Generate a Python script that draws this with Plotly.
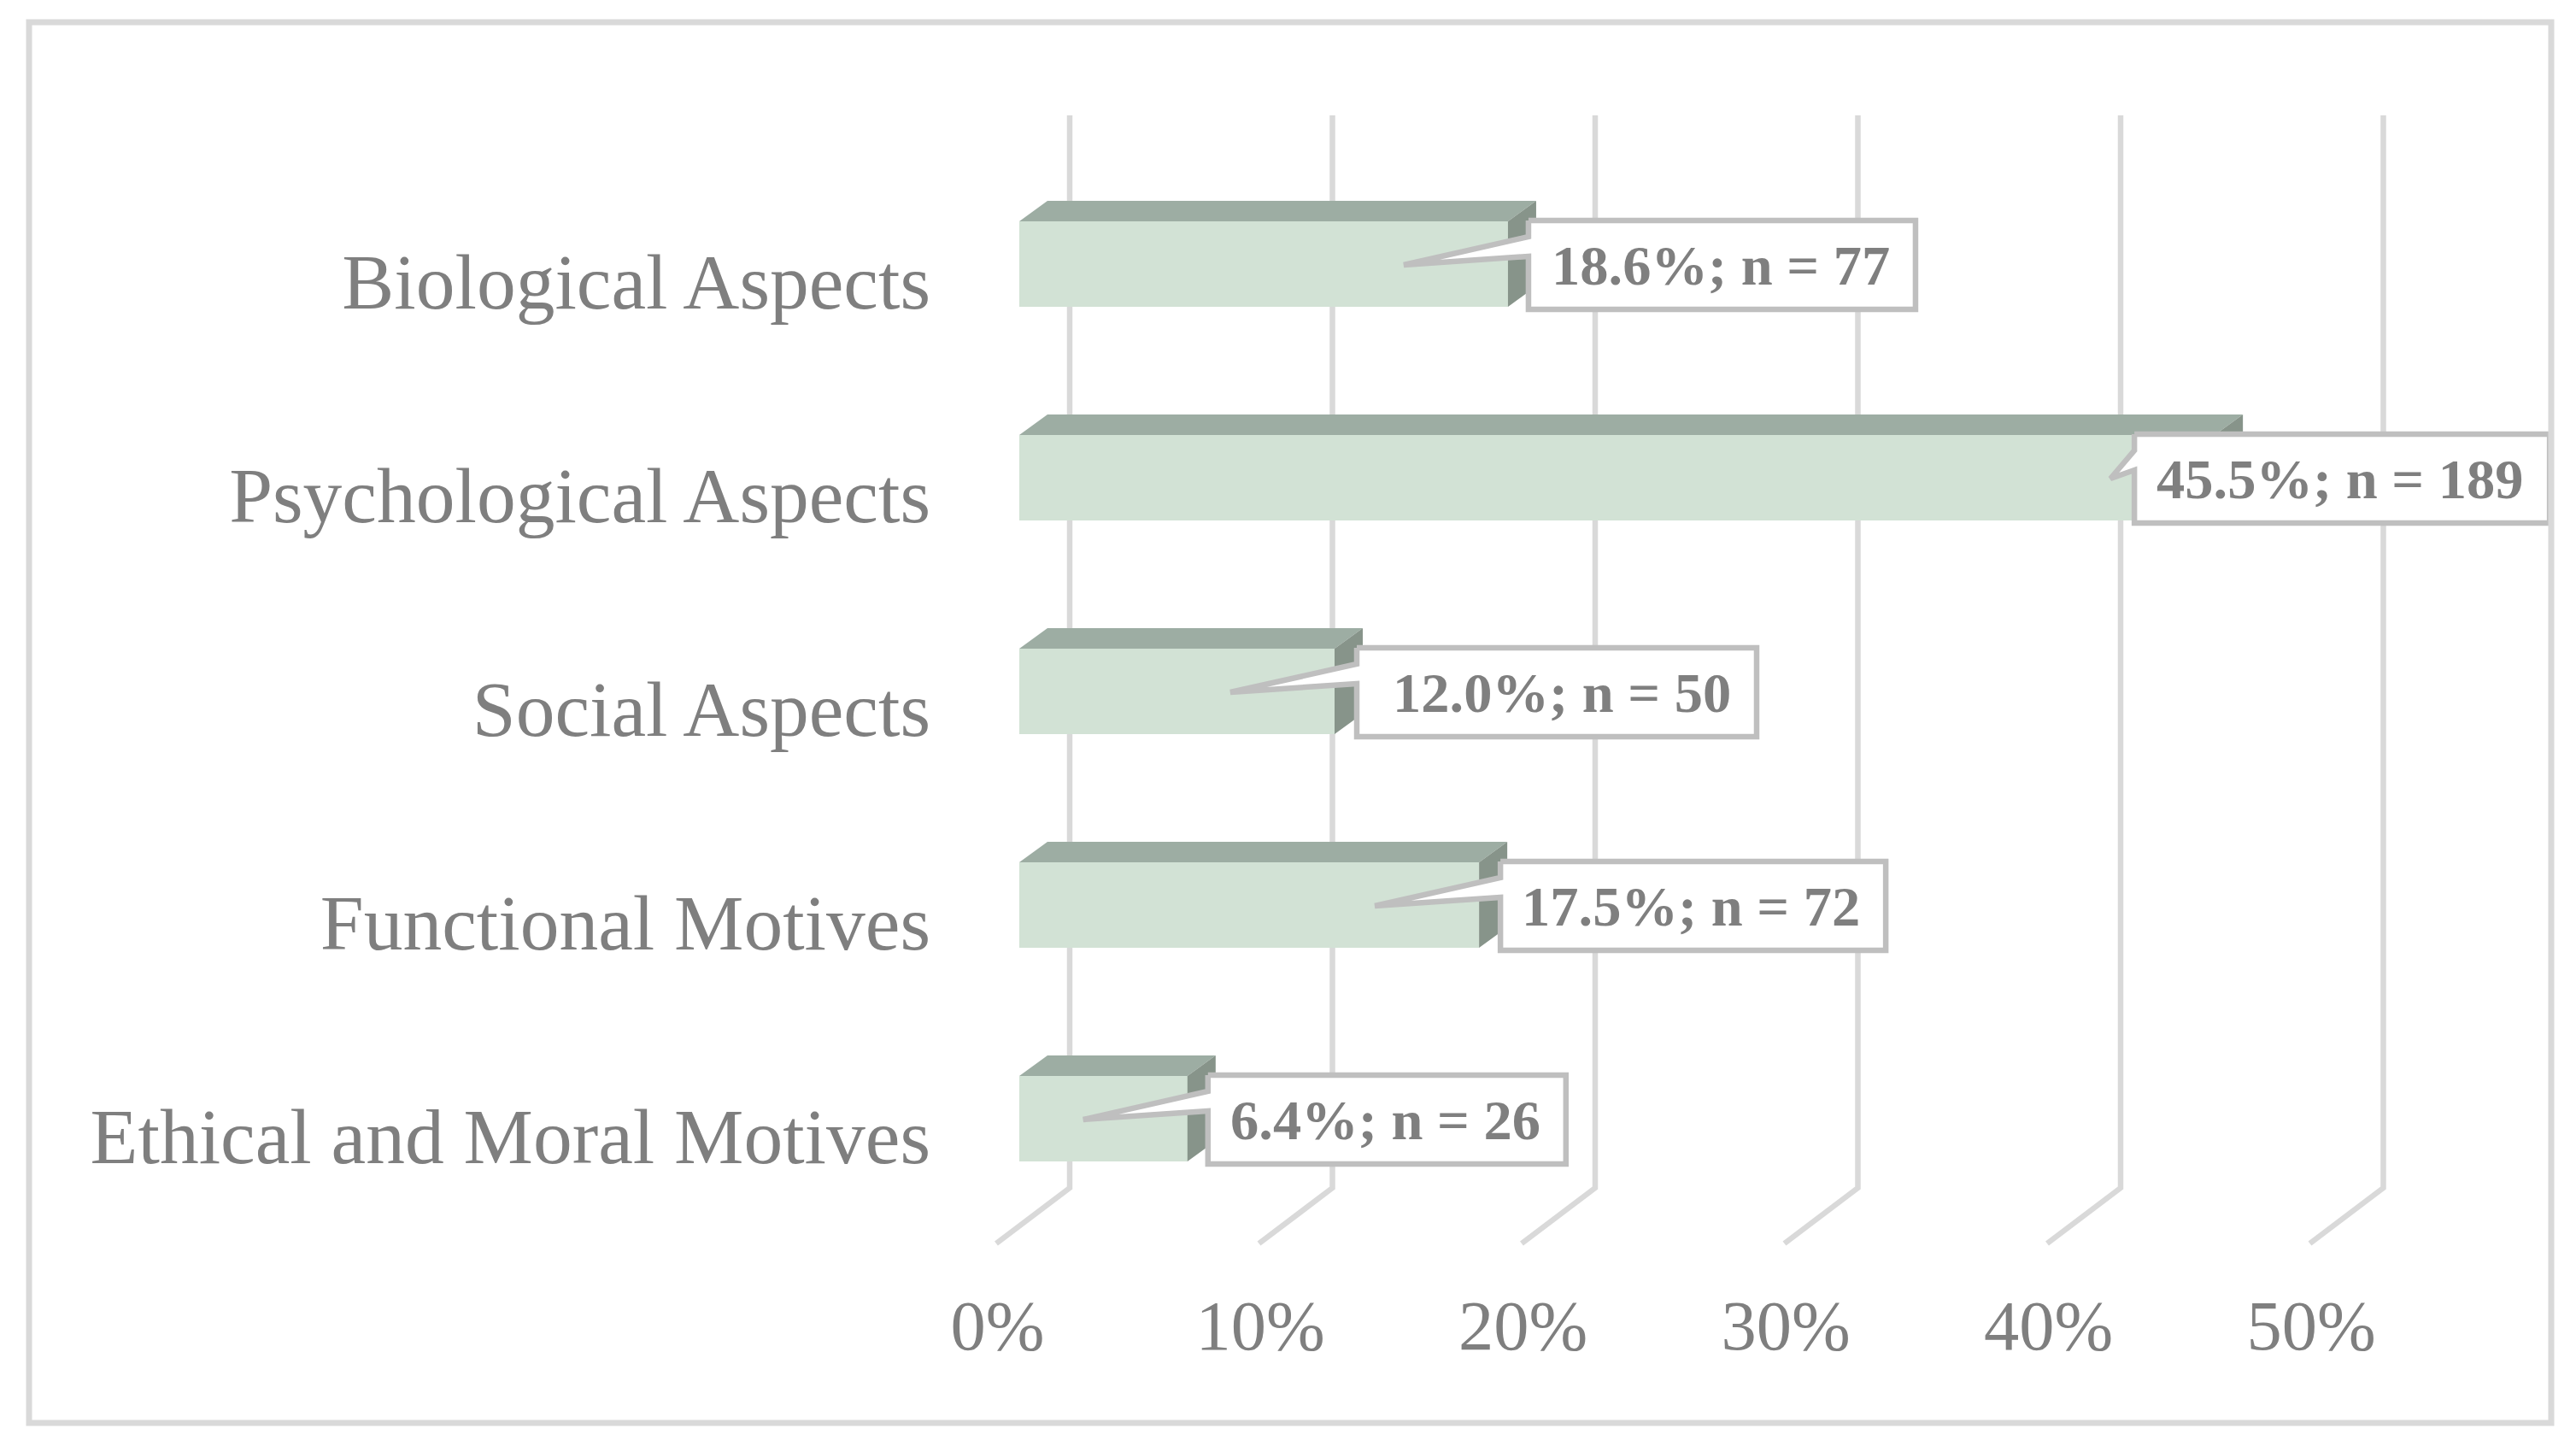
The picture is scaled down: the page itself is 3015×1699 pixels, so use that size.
import plotly.graph_objects as go

# ---- data ----
categories = ["Biological Aspects", "Psychological Aspects", "Social Aspects",
              "Functional Motives", "Ethical and Moral Motives"]
shares = [18.6, 45.5, 12.0, 17.5, 6.4]
counts = [77, 189, 50, 72, 26]
x_ticks = [0, 10, 20, 30, 40, 50]

# ---- canvas / scale ----
W, H = 3015, 1699
L, R, T, B = 1120, 2990, 60, 1495          # plot rectangle in pixels
PX_X = 30.75                               # pixels per percentage point
PX_Y = 250.0                               # pixels per category
X0, Y0 = 1193, 309                         # pixel of (0 %, first category)
xr = [(L - X0) / PX_X, (R - X0) / PX_X]
yr = [(B - Y0) / PX_Y, (T - Y0) / PX_Y]
px = lambda d: d / PX_X
py = lambda d: d / PX_Y

# ---- style ----
TXT = "#7f7f7f"; GRID = "#d9d9d9"; FRONT = "#d2e2d5"; TOP = "#9dada3"
SIDE = "#87948a"; CALL = "#bfbfbf"
SERIF = "Liberation Serif"
HALF = 0.2
DX, DY = px(33), py(24)

# callout layout, expressed as offsets from each bar end (pixels)
call_left = [24, -94, 26, 25, 24]
call_width = [453, 486, 468, 451, 419]
TIP = -122
TXT_PAD = 28

fig = go.Figure()
fig.add_bar(x=shares, y=list(range(len(shares))), orientation="h", width=2 * HALF,
            marker=dict(color=FRONT, line=dict(width=0)), showlegend=False, hoverinfo="skip")

tx, ty, sx, sy = [], [], [], []
for i, v in enumerate(shares):
    t, b = i - HALF, i + HALF
    tx += [0, v, v + DX, DX, 0, None]
    ty += [t, t, t - DY, t - DY, t, None]
    sx += [v, v + DX, v + DX, v, v, None]
    sy += [t, t - DY, b - DY, b, t, None]
for xs, ys, c in ((tx, ty, TOP), (sx, sy, SIDE)):
    fig.add_trace(go.Scatter(x=xs, y=ys, mode="lines", fill="toself", fillcolor=c,
                             line=dict(width=0, color=c), showlegend=False, hoverinfo="skip"))

annotations = []
for i, (v, n) in enumerate(zip(shares, counts)):
    l = v + px(call_left[i])
    r = l + px(call_width[i])
    t = i - HALF - py(1)
    b = i + HALF + py(3)
    tip = v + px(TIP)
    xs = [l, r, r, l, l, tip, l, l]
    ys = [t, t, b, b, t + py(42), i + py(1), t + py(19), t]
    fig.add_trace(go.Scatter(x=xs, y=ys, mode="lines", fill="toself", fillcolor="white",
                             line=dict(width=6.5, color=CALL, shape="linear"),
                             showlegend=False, hoverinfo="skip"))
    annotations.append(dict(x=r - px(TXT_PAD), y=i - py(-1), xref="x", yref="y",
                            xanchor="right", yanchor="middle", showarrow=False,
                            text=f"<b>{v:.1f}%; n = {n}</b>",
                            font=dict(family=SERIF, size=66.5, color=TXT)))

# walls and floor lines, one for each axis tick
WALL_X, FLOOR_X = px(59), px(-27)
WALL_TOP = (135 - Y0) / PX_Y
WALL_BOT = (1390 - Y0) / PX_Y
FLOOR_Y = (1455 - Y0) / PX_Y
shapes = []
for k in x_ticks:
    shapes.append(dict(type="path", layer="below", xref="x", yref="y",
                       path=f"M {k+WALL_X} {WALL_TOP} L {k+WALL_X} {WALL_BOT} L {k+FLOOR_X} {FLOOR_Y}",
                       line=dict(color=GRID, width=6.5)))
# outer frame (paper coordinates derived from pixels)
fx = lambda p: (p - L) / (R - L)
fy = lambda p: (B - p) / (B - T)
shapes.append(dict(type="rect", xref="paper", yref="paper", layer="above",
                   x0=fx(34), x1=fx(2986), y0=fy(1665), y1=fy(26),
                   line=dict(color=GRID, width=7), fillcolor="rgba(0,0,0,0)"))

fig.update_layout(
    width=W, height=H, autosize=False, paper_bgcolor="white", plot_bgcolor="white",
    margin=dict(l=L, r=W - R, t=T, b=H - B, pad=0),
    bargap=0, showlegend=False, shapes=shapes, annotations=annotations,
    xaxis=dict(range=xr, tickmode="array", tickvals=[k + FLOOR_X + px(1.5) for k in x_ticks],
               ticktext=[f"{k}%" for k in x_ticks], showgrid=False, zeroline=False,
               showline=False, ticks="", tickfont=dict(family=SERIF, size=82.5, color=TXT),
               automargin=False),
    yaxis=dict(range=yr, tickmode="array", tickvals=[i + py(20) for i in range(len(categories))],
               ticktext=categories, showgrid=False, zeroline=False, showline=False, ticks="",
               tickfont=dict(family=SERIF, size=91.5, color=TXT), ticklabelstandoff=30,
               automargin=False),
)
fig.write_html("out.html", config=dict(displayModeBar=False),
               post_script="document.body.style.margin='0';")
